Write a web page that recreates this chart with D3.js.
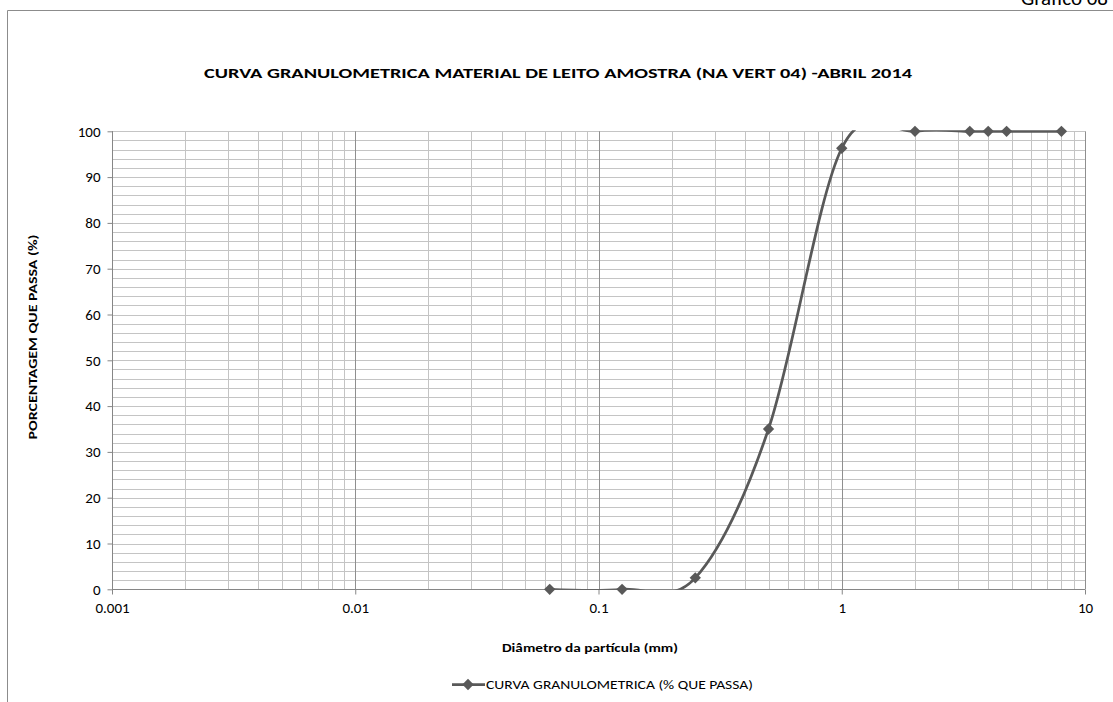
<!DOCTYPE html>
<html><head><meta charset="utf-8">
<script src="https://cdn.jsdelivr.net/npm/d3@7"></script>
<style>
body{margin:0;background:#fff;}
svg{display:block;font-family:Carlito,"Liberation Sans",Arial,sans-serif;}
.tick text{font-family:Carlito,"Liberation Sans",Arial,sans-serif;font-size:15px;fill:#000;}
</style></head>
<body><svg id="c" width="1113" height="702"></svg>
<script>
const diameters = [0.063, 0.125, 0.25, 0.5, 1, 2, 3.36, 4, 4.76, 8];
const percentPassing = [0, 0, 2.5, 35, 96.3, 100, 100, 100, 100, 100];
const xTickValues = [0.001, 0.01, 0.1, 1, 10];
const xTickLabels = ["0.001", "0.01", "0.1", "1", "10"];
const yTickValues = [0, 10, 20, 30, 40, 50, 60, 70, 80, 90, 100];
const titleText = "CURVA GRANULOMETRICA MATERIAL DE LEITO AMOSTRA (NA VERT 04)  -ABRIL 2014";
const xTitle = "Diâmetro da partícula (mm)";
const yTitle = "PORCENTAGEM  QUE PASSA (%)";
const seriesName = "CURVA GRANULOMETRICA  (% QUE PASSA)";
const pageLabel = "Gráfico 08";

const svg = d3.select("#c");
const L = 112, R = 1085, T = 131.3, B = 589.3;
const x = d3.scaleLog().domain([0.001, 10]).range([L, R]);
const y = d3.scaleLinear().domain([0, 100]).range([B, T]);
const lineCol = "#595959";

// outer chart frame (partially visible)
svg.append("line").attr("x1", 7.5).attr("x2", 1113).attr("y1", 10.5).attr("y2", 10.5).attr("stroke", "#8c8c8c").attr("stroke-width", 1);
svg.append("line").attr("x1", 7.5).attr("x2", 7.5).attr("y1", 10.5).attr("y2", 702).attr("stroke", "#8c8c8c").attr("stroke-width", 1);
svg.append("text").attr("x", 1108).attr("y", 5).attr("text-anchor", "end").attr("font-size", 21).attr("fill", "#000").text(pageLabel);

// horizontal grid (every 2)
const hGrid = d3.range(2, 101, 2);
svg.append("g").selectAll("line").data(hGrid).join("line")
  .attr("x1", L).attr("x2", R)
  .attr("y1", d => Math.round(y(d)) + 0.5).attr("y2", d => Math.round(y(d)) + 0.5)
  .attr("stroke", "#c4c4c4").attr("stroke-width", 1);

// vertical minor grid
const minor = [];
[0.001, 0.01, 0.1, 1].forEach(dec => { for (let k = 2; k <= 9; k++) minor.push(dec * k); });
svg.append("g").selectAll("line").data(minor).join("line")
  .attr("x1", d => Math.round(x(d)) + 0.5).attr("x2", d => Math.round(x(d)) + 0.5)
  .attr("y1", T).attr("y2", B)
  .attr("stroke", "#c4c4c4").attr("stroke-width", 1);
// vertical major grid
svg.append("g").selectAll("line").data(xTickValues).join("line")
  .attr("x1", d => Math.round(x(d)) + 0.5).attr("x2", d => Math.round(x(d)) + 0.5)
  .attr("y1", T).attr("y2", B)
  .attr("stroke", "#8f8f8f").attr("stroke-width", 1);

// axes
const yAxis = d3.axisLeft(y).tickValues(yTickValues).tickSize(5).tickPadding(7);
const gy = svg.append("g").attr("transform", `translate(${Math.round(L) + 0.5},0)`).call(yAxis);
const xAxis = d3.axisBottom(x).tickValues(xTickValues).tickFormat((d, i) => xTickLabels[i]).tickSize(5).tickPadding(8);
const gx = svg.append("g").attr("transform", `translate(0,${Math.round(B) + 0.5})`).call(xAxis);
[gx, gy].forEach(g => {
  g.attr("font-size", null).attr("font-family", null);
  g.select(".domain").attr("stroke", "#868686");
  g.selectAll(".tick line").attr("stroke", "#868686");
});
gx.select(".domain").attr("d", `M${L},0H${R}`);
gy.select(".domain").attr("d", `M0,${T}V${B}`);

// clip
svg.append("clipPath").attr("id", "pc").append("rect").attr("x", L).attr("y", T - 1).attr("width", R - L).attr("height", B - T + 1.5);

const data = diameters.map((d, i) => ({ d, p: percentPassing[i] }));
const line = d3.line().x(v => x(v.d)).y(v => y(v.p)).curve(d3.curveCardinal.tension(0));
svg.append("path").datum(data).attr("d", line).attr("clip-path", "url(#pc)")
  .attr("fill", "none").attr("stroke", lineCol).attr("stroke-width", 2.75);

const diamond = d3.symbol().type(d3.symbolSquare).size(64);
svg.append("g").selectAll("path").data(data).join("path")
  .attr("transform", v => `translate(${x(v.d)},${y(v.p)}) rotate(45)`)
  .attr("d", diamond).attr("fill", lineCol);

// titles
svg.append("text").attr("x", 558).attr("y", 78).attr("text-anchor", "middle")
  .attr("font-size", 14).attr("font-weight", "bold").attr("textLength", 708).attr("lengthAdjust", "spacingAndGlyphs").text(titleText);
svg.append("text").attr("x", 590).attr("y", 652).attr("text-anchor", "middle")
  .attr("font-size", 12).attr("font-weight", "bold").attr("textLength", 176).attr("lengthAdjust", "spacingAndGlyphs").text(xTitle);
svg.append("text").attr("transform", "translate(37,337) rotate(-90)").attr("text-anchor", "middle")
  .attr("font-size", 12).attr("font-weight", "bold").attr("textLength", 205).attr("lengthAdjust", "spacingAndGlyphs").text(yTitle);

// legend
const lg = svg.append("g");
lg.append("line").attr("x1", 452).attr("x2", 485).attr("y1", 684.5).attr("y2", 684.5).attr("stroke", lineCol).attr("stroke-width", 2.75);
lg.append("path").attr("transform", "translate(468,684.5) rotate(45)").attr("d", diamond).attr("fill", lineCol);
lg.append("text").attr("x", 486).attr("y", 688.5).attr("font-size", 12).attr("textLength", 267).attr("lengthAdjust", "spacingAndGlyphs").text(seriesName);
</script></body></html>
